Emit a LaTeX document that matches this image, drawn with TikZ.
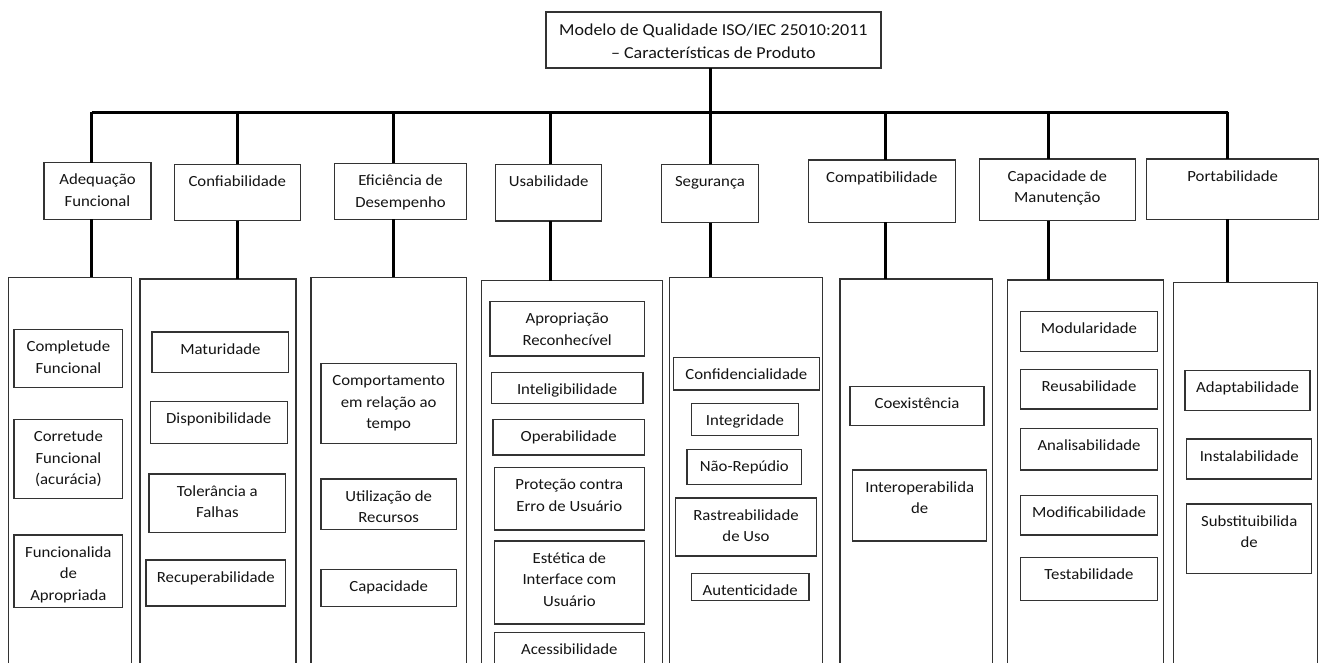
\documentclass[tikz,border=0pt]{standalone}
\usepackage{fontspec}
\setmainfont{Carlito}[FakeStretch=1.08]
\usetikzlibrary{fit}

% rectangle given by its corners, with its text set from the top edge down
\newcommand\cellbox[7][]{%
  \node[frame,fit={(#3,#4) (#5,#6)},#1] (#2) {};
  \node[celltext] at ([yshift=-7pt]#2.north) {\strut #7};
}

\tikzset{
  frame/.style={draw=black!80,line width=1.4pt,inner sep=0pt,outer sep=0pt},
  celltext/.style={anchor=north,align=center,inner sep=0pt,text=black!92,
    font=\fontsize{15.5pt}{21.5pt}\selectfont},
  conn/.style={draw=black,line width=3pt},
}

\begin{document}
\begin{tikzpicture}[x=1pt,y=-1pt]
\useasboundingbox (0,0) rectangle (1322,663);
\fill[white] (0,0) rectangle (1322,663);
\clip (0,0) rectangle (1322,663);

% root
\node[frame,line width=1.6pt,fit={(546,12.3) (880.7,68.3)}] (root) {};
\node[celltext,font=\fontsize{16.7pt}{23pt}\selectfont] at ([yshift=-6.6pt]root.north)
  {\strut Modelo de Qualidade ISO/IEC 25010:2011\\– Características de Produto};

% branch points on the horizontal bar
\coordinate (b1) at (91.7,112.3);
\coordinate (b2) at (237.3,112.3);
\coordinate (b3) at (393.3,112.3);
\coordinate (b4) at (550,112.3);
\coordinate (b5) at (710,112.3);
\coordinate (b6) at (885,112.3);
\coordinate (b7) at (1048,112.3);
\coordinate (b8) at (1227.7,112.3);

% characteristics
\cellbox{c1}{44}{162.7}{151}{219.3}{Adequação\\Funcional}
\cellbox{c2}{174.3}{164.3}{300.3}{220.7}{Confiabilidade}
\cellbox{c3}{334.3}{163.3}{466.7}{219.3}{Eficiência de\\Desempenho}
\cellbox{c4}{495.7}{164.3}{601.7}{221}{Usabilidade}
\cellbox{c5}{661.7}{164.3}{758.3}{222.7}{Segurança}
\cellbox{c6}{808.3}{160}{955.3}{222.3}{Compatibilidade}
\cellbox{c7}{979.3}{159}{1135.3}{220.7}{Capacidade de\\Manutenção}
\cellbox{c8}{1146.7}{159}{1318.7}{219.3}{Portabilidade}

% sub-characteristic panels (running past the lower edge)
\node[frame,fit={(8.3,277.3) (131.7,700)}] (p1) {};
\node[frame,fit={(140,279) (296,700)}] (p2) {};
\node[frame,fit={(311,277.3) (466.3,700)}] (p3) {};
\node[frame,fit={(481.7,280.7) (662.3,700)}] (p4) {};
\node[frame,fit={(669.3,277.3) (822.3,700)}] (p5) {};
\node[frame,fit={(840,279) (992.7,700)}] (p6) {};
\node[frame,fit={(1007.3,280) (1163.3,700)}] (p7) {};
\node[frame,fit={(1173.3,282.3) (1317.3,700)}] (p8) {};

% connectors
\draw[conn] (root.south -| b5) -- (b5);
\draw[conn] (b1) -- (b8);
\foreach \i in {1,...,8}{
  \draw[conn] (b\i) -- (b\i |- c\i.north);
  \draw[conn] (b\i |- c\i.south) -- (b\i |- p\i.north);
}

% Adequação Funcional
\cellbox{a1}{14}{329.3}{122.7}{387.3}{Completude\\Funcional}
\cellbox{a2}{14}{419.3}{122.7}{498.3}{Corretude\\Funcional\\(acurácia)}
\cellbox{a3}{14}{535}{122.7}{607.7}{Funcionalida\\de\\Apropriada}

% Confiabilidade
\cellbox{r1}{152}{332}{288.7}{372.3}{Maturidade}
\cellbox{r2}{150.3}{401.7}{287.3}{443.3}{Disponibilidade}
\cellbox{r3}{149}{474}{285.7}{532.3}{Tolerância a\\Falhas}
\cellbox{r4}{146}{560}{285.7}{606}{Recuperabilidade}

% Eficiência de Desempenho
\cellbox{e1}{321}{363.3}{456.3}{443.3}{Comportamento\\em relação ao\\tempo}
\cellbox{e2}{321}{479}{456.3}{529.3}{Utilização de\\Recursos}
\cellbox{e3}{321}{569.3}{456.3}{606.7}{Capacidade}

% Usabilidade
\cellbox{u1}{490}{301.3}{644.3}{356}{Apropriação\\Reconhecível}
\cellbox{u2}{491.3}{372.3}{643}{403.3}{Inteligibilidade}
\cellbox{u3}{493}{419.7}{644.3}{455}{Operabilidade}
\cellbox{u4}{494.3}{467.3}{644.3}{530}{Proteção contra\\Erro de Usuário}
\cellbox{u5}{494.3}{541}{644.3}{624}{Estética de\\Interface com\\Usuário}
\cellbox{u6}{494.3}{632.7}{644.3}{700}{Acessibilidade}

% Segurança
\cellbox{s1}{673.3}{357.3}{819.3}{390}{Confidencialidade}
\cellbox{s2}{691.3}{403.3}{798.7}{435.7}{Integridade}
\cellbox{s3}{687}{449.3}{801.7}{484.7}{Não-Repúdio}
\cellbox{s4}{675.3}{498}{816.7}{556}{Rastreabilidade\\de Uso}
\cellbox{s5}{691.3}{573.3}{809}{600.7}{Autenticidade}

% Compatibilidade
\cellbox{k1}{850}{386.7}{984}{425.7}{Coexistência}
\cellbox{k2}{852.7}{470}{986.7}{541}{Interoperabilida\\de}

% Capacidade de Manutenção
\cellbox{m1}{1020.7}{311.7}{1157.3}{351.7}{Modularidade}
\cellbox{m2}{1020.7}{369.3}{1157.3}{409}{Reusabilidade}
\cellbox{m3}{1020.7}{428.7}{1157.3}{470}{Analisabilidade}
\cellbox{m4}{1020.7}{495.3}{1157.3}{535}{Modificabilidade}
\cellbox{m5}{1020.7}{557.3}{1157.3}{600.7}{Testabilidade}

% Portabilidade
\cellbox{t1}{1185}{370.7}{1310}{410.7}{Adaptabilidade}
\cellbox{t2}{1186.7}{439}{1311.7}{479}{Instalabilidade}
\cellbox{t3}{1186.7}{504}{1311.7}{573.3}{Substituibilida\\de}
\end{tikzpicture}
\end{document}
